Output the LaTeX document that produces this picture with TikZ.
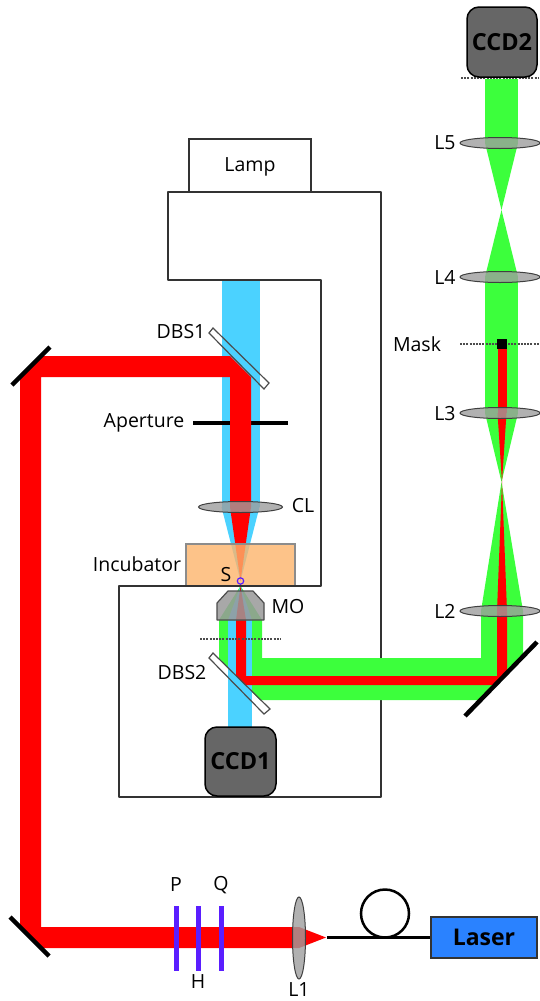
\documentclass[tikz,border=0pt]{standalone}
\usepackage{fontspec}
\setmainfont{Open Sans}
\definecolor{beamblue}{HTML}{4BD2FF}
\definecolor{beamgreen}{HTML}{3CFF3C}
\definecolor{platecol}{HTML}{5A1EFF}
\definecolor{lasercol}{HTML}{2A82FF}
\definecolor{incubcol}{HTML}{FDB46C}
\definecolor{framecol}{HTML}{333333}
\tikzset{
	lens/.style={draw=black!75,line width=1pt,fill=black!38,fill opacity=0.8},
	mirror/.style={line width=4.5pt,black},
	splitter/.style={draw=black!70,line width=1.2pt},
	focal/.style={draw=black!70,line width=1.2pt,dash pattern=on 2pt off 1.2pt},
	plate/.style={line width=5pt,platecol},
	camera/.style={draw=black,line width=1.5pt,fill=black!60,rounded corners=12pt},
	lbl/.style={font=\fontsize{19.5}{22}\selectfont,inner sep=0pt},
	boldlbl/.style={font=\fontsize{23.5}{26}\bfseries\selectfont,inner sep=0pt}
}

\begin{document}
\begin{tikzpicture}[x=1pt,y=-1pt]
	\useasboundingbox (0,0) rectangle (539,1001);

	% housing
	\draw[framecol,line width=2pt,fill=white] (189,192) -- (189,139) -- (311,139) -- (311,192);
	\draw[framecol,line width=2pt,line join=round] (168,192) -- (381,192) -- (381,797) -- (119,797) -- (119,586) -- (321,586) -- (321,280) -- (168,280) -- cycle;
	\node[lbl] (lamp) at (250,167) {Lamp};

	% lamp light
	\fill[beamblue] (221.5,281) rectangle (259.5,507);
	\fill[beamblue] (221.5,507) -- (259.5,507) -- (240.5,581) -- cycle;
	\draw[line width=4pt,black] (193,423) -- (288,423);

	% laser path to the sample
	\fill[red] (230,356) -- (41,356) -- (20,377) -- (20,927) -- (41,948) -- (299,948) -- (299,927) -- (41,927) -- (41,377) -- (230,377) -- cycle;
	\fill[red] (299,927) -- (326,937.5) -- (299,948) -- cycle;
	\fill[red] (230,356) -- (251,377) -- (251,507) -- (230,507) -- cycle;
	\fill[red] (230,507) -- (251,507) -- (240.5,581) -- cycle;

	% green path
	\fill[beamgreen] (219,620) -- (262,620) -- (262,658) -- (481,658) -- (481,611) -- (523,611) -- (523,657) -- (480,700) -- (260,700) -- (219,659) -- cycle;
	\fill[beamblue] (228,620) rectangle (252,727);
	\fill[red] (236,620) -- (246,620) -- (246,676) -- (497,676) -- (497,611) -- (507,611) -- (507,673) -- (495,685) -- (245,685) -- (236,676) -- cycle;
	\fill[beamgreen] (481,611) -- (523,611) -- (501.5,482) -- cycle;
	\fill[beamgreen] (485,413) -- (518,413) -- (501.5,482) -- cycle;
	\fill[beamgreen] (485,277) rectangle (518,413);
	\fill[beamgreen] (485,277) -- (518,277) -- (501.5,210) -- cycle;
	\fill[beamgreen] (485,143) -- (518,143) -- (501.5,210) -- cycle;
	\fill[beamgreen] (485,79) rectangle (518,143);
	\fill[red] (497,611) -- (507,611) -- (502,482) -- cycle;
	\fill[red] (497.5,413) -- (506.5,413) -- (502,482) -- cycle;
	\fill[red] (497.5,344) rectangle (506.5,413);

	% fan inside the objective
	\fill[beamgreen] (240.5,586) -- (219,620) -- (262,620) -- cycle;
	\fill[beamblue] (240.5,586) -- (228,620) -- (252,620) -- cycle;
	\fill[red] (240.5,586) -- (236,620) -- (246,620) -- cycle;

	% incubator and sample
	\draw[draw=black!45,line width=1.5pt,fill=incubcol,fill opacity=0.8] (186,544) rectangle (295,586);
	\draw[framecol,line width=2pt] (119,586) -- (321,586);
	\draw[platecol,line width=1.2pt] (240.5,581) circle [radius=3.2];
	\node[lbl] (sample) at (226,575) {S};
	\node[lbl] (incubator) at (137,564) {Incubator};

	% objective
	\draw[draw=black!70,line width=1.2pt,fill=black!40,fill opacity=0.85,line join=round] (217,603) -- (228,591) -- (253,591) -- (264,603) -- (264,620) -- (217,620) -- cycle;
	\node[lbl] (mo) at (288,607) {MO};
	\draw[focal] (200,639) -- (281,639);

	% beam splitters
	\draw[splitter] (213,328) -- (269,383) -- (264,389) -- (209,333) -- cycle;
	\node[lbl] (dbs1) at (181,332) {DBS1};
	\draw[splitter] (213,653) -- (270,709) -- (264,714) -- (209,658) -- cycle;
	\node[lbl] (dbs2) at (182,673) {DBS2};
	\node[lbl] (aperture) at (144,423) {Aperture};

	% mirrors
	\draw[mirror] (12,385) -- (50,347);
	\draw[mirror] (10,917) -- (49,956);
	\draw[mirror] (465,716) -- (537,642);

	% lenses
	\draw[lens] (240.5,507) ellipse [x radius=42,y radius=5.5];
	\node[lbl] (cl) at (303,506) {CL};
	\draw[lens] (500,611) ellipse [x radius=40,y radius=5.5];
	\node[lbl] (ltwo) at (445,611) {L2};
	\draw[lens] (500,413) ellipse [x radius=40,y radius=5.5];
	\node[lbl] (lthree) at (445,414) {L3};
	\draw[lens] (500,277) ellipse [x radius=40,y radius=5.5];
	\node[lbl] (lfour) at (445,277) {L4};
	\draw[lens] (500,143) ellipse [x radius=40,y radius=5.5];
	\node[lbl] (lfive) at (445,143) {L5};
	\draw[lens] (299,938) ellipse [x radius=6.5,y radius=41];
	\node[lbl] (lone) at (299,990) {L1};

	% mask
	\draw[focal] (460,344) -- (539,344);
	\fill[black] (497,339) rectangle (507,349);
	\node[lbl] (mask) at (417,344) {Mask};

	% cameras
	\draw[focal] (461,78) -- (539,78);
	\draw[camera] (467,7) rectangle (537,77);
	\node[boldlbl] (ccdtwo) at (502,42) {CCD2};
	\draw[camera] (205,727) rectangle (276,796);
	\node[boldlbl] (ccdone) at (240.5,761) {CCD1};

	% polarisation optics
	\draw[plate] (176,906) -- (176,971);
	\node[lbl] (pol) at (176,885) {P};
	\draw[plate] (198,906) -- (198,971);
	\node[lbl] (hwp) at (198,982) {H};
	\draw[plate] (221,906) -- (221,971);
	\node[lbl] (qwp) at (221,885) {Q};

	% laser and fibre
	\node[draw=framecol,line width=1.5pt,fill=lasercol,minimum width=106pt,minimum height=41pt,inner sep=0pt,font=\fontsize{23}{26}\bfseries\selectfont] (laser) at (484,937.5) {Laser};
	\coordinate (tip) at (327,937.5);
	\draw[black,line width=2.5pt] (tip) -- (laser.west);
	\draw[black,line width=2.5pt] (385,913.5) circle [radius=24];
\end{tikzpicture}
\end{document}
